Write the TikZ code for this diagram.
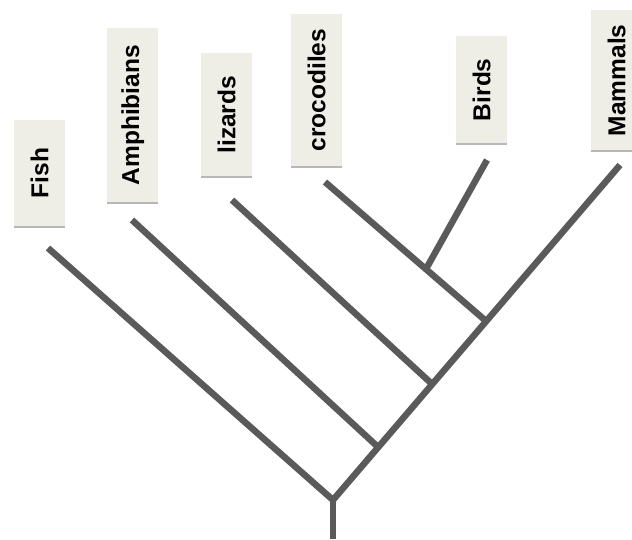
\documentclass[tikz,border=0pt]{standalone}
\usepackage{fontspec}
\setmainfont{Liberation Sans}
\usetikzlibrary{shadows}
\definecolor{branch}{HTML}{5A5A5A}
\definecolor{labelfill}{HTML}{EEEDE6}
\begin{document}
\begin{tikzpicture}[x=1pt,y=-1pt,
  taxon/.style={fill=labelfill, draw=none, inner sep=0pt,
    minimum width=51pt, anchor=north west,
    drop shadow={shadow xshift=0pt, shadow yshift=-2pt, fill=black!35, opacity=0.8}},
  taxtext/.style={font=\bfseries\fontsize{24.5}{24.5}\selectfont, rotate=90, text=black},
  limb/.style={draw=branch, line width=6.5pt, line cap=butt, line join=miter}]
\useasboundingbox (0,0) rectangle (632,539);
\clip (0,0) rectangle (632,539);

% taxon labels
\node[taxon, minimum height=106pt] (fish) at (14,120) {};
\node[taxon, minimum height=174pt] (amph) at (107,28) {};
\node[taxon, minimum height=123pt] (liz)  at (201,53) {};
\node[taxon, minimum height=152pt] (croc) at (291,14) {};
\node[taxon, minimum height=107pt] (bird) at (456,36) {};
\node[taxon, minimum height=140pt] (mamm) at (591,10) {};
\node[taxtext] at (fish.center) {Fish};
\node[taxtext] at (amph.center) {Amphibians};
\node[taxtext] at (liz.center)  {lizards};
\node[taxtext] at (croc.center) {crocodiles};
\node[taxtext] at (bird.center) {Birds};
\node[taxtext] at (mamm.center) {Mammals};

% branch points and tips
\coordinate (base) at (333,539);
\coordinate (root) at (333,500);
\coordinate (nAmph) at (378,447);
\coordinate (nLiz)  at (432,384);
\coordinate (nCroc) at (486,321);
\coordinate (nBird) at (426,269);
\coordinate (tFish) at (48,248);
\coordinate (tAmph) at (132,220);
\coordinate (tLiz)  at (232,200);
\coordinate (tCroc) at (325,182);
\coordinate (tBird) at (487,160);
\coordinate (tMamm) at (620,165);

% tree
\draw[limb] (base) -- (root);
\draw[limb] (root) -- (tMamm);
\draw[limb] (root) -- (tFish);
\draw[limb] (nAmph) -- (tAmph);
\draw[limb] (nLiz) -- (tLiz);
\draw[limb] (nCroc) -- (tCroc);
\draw[limb] (nBird) -- (tBird);
\end{tikzpicture}
\end{document}
